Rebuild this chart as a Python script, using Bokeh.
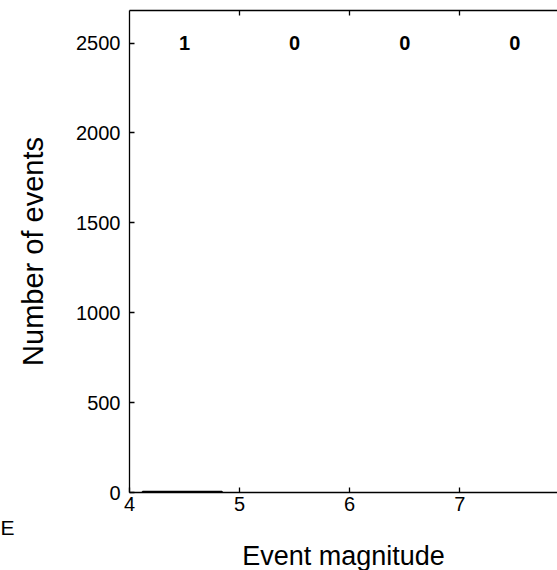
from bokeh.plotting import figure
from bokeh.models import LinearAxis, Title, ColumnDataSource, Range1d, FixedTicker
from bokeh.core.properties import value
from bokeh.embed import file_html
from bokeh.resources import INLINE

# Event counts per unit of magnitude, written above each interval
bin_centers = [4.5, 5.5, 6.5, 7.5]
bin_counts = [1, 0, 0, 0]

# Histogram bar of recorded events
bar_left = [4.12]
bar_right = [4.84]
bar_height = [1]

y_ticks = [0, 500, 1000, 1500, 2000, 2500]
x_ticks = [4, 5, 6, 7]

FONT = "Liberation Sans"

p = figure(width=557, height=570, output_backend="svg", toolbar_location=None,
           x_range=Range1d(4, 7.888), y_range=Range1d(0, 2681),
           x_axis_location=None, y_axis_location=None)
p.min_border_left = 129
p.min_border_right = 0
p.min_border_top = 10
p.min_border_bottom = 77
p.outline_line_color = None
p.grid.visible = False
p.background_fill_color = "white"
p.border_fill_color = "white"

# bottom axis
xb = LinearAxis(ticker=FixedTicker(ticks=x_ticks))
# left axis
yl = LinearAxis(ticker=FixedTicker(ticks=y_ticks))
# top axis: line and inward ticks only
xt = LinearAxis(ticker=FixedTicker(ticks=[5, 6, 7]))

for ax in (xb, yl, xt):
    ax.axis_line_color = "black"
    ax.axis_line_width = 1.3
    ax.major_tick_line_color = "black"
    ax.major_tick_line_width = 1.3
    ax.major_tick_in = 5
    ax.major_tick_out = 0
    ax.minor_tick_line_color = None
    ax.major_label_text_font = FONT
    ax.major_label_text_font_size = "20px"
    ax.major_label_text_color = "black"

xb.major_label_standoff = 4
yl.major_label_standoff = 9
xt.major_label_text_color = None

yl.axis_label = "Number of events"
yl.axis_label_text_font = FONT
yl.axis_label_text_font_size = "29px"
yl.axis_label_text_font_style = "normal"
yl.axis_label_text_color = "black"
yl.axis_label_standoff = 24

p.add_layout(xb, "below")
p.add_layout(yl, "left")
p.add_layout(xt, "above")

# panel letter of the neighbouring plot, at the far left under the axis
p.add_layout(Title(text="E", align="left", offset=-129, standoff=0,
                   text_font=FONT, text_font_size="21px",
                   text_font_style="normal", text_color="black"), "below")
# x axis title, centred on the 4-8 magnitude span
p.add_layout(Title(text="Event magnitude", align="center", offset=7, standoff=0,
                   text_font=FONT, text_font_size="27px",
                   text_font_style="normal", text_color="black"), "below")

src = ColumnDataSource(dict(left=bar_left, right=bar_right, top=bar_height,
                            bottom=[0] * len(bar_left)))
p.quad(left="left", right="right", top="top", bottom="bottom", source=src,
       fill_color="black", line_color="black", line_width=3)

lab_src = ColumnDataSource(dict(x=bin_centers, y=[2500] * len(bin_centers),
                                t=[str(c) for c in bin_counts]))
p.text(x="x", y="y", text="t", source=lab_src, text_font=value(FONT),
       text_font_size="20px", text_font_style="bold", text_align="center",
       text_baseline="middle", text_color="black")

open("out.html", "w").write(file_html(p, INLINE))
